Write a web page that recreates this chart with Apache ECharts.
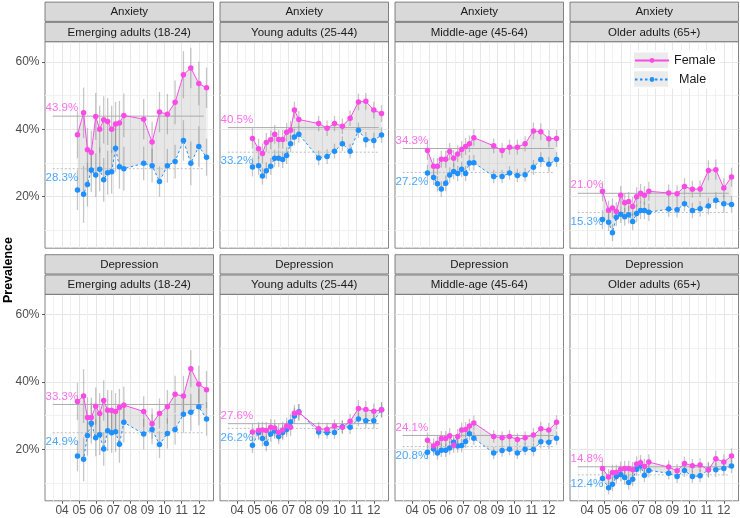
<!DOCTYPE html>
<html><head><meta charset="utf-8">
<script src="https://cdn.jsdelivr.net/npm/echarts@6/dist/echarts.min.js"></script>
<style>html,body{margin:0;padding:0;background:#fff}#c{width:740px;height:518px}</style>
</head><body><div id="c"></div>
<script>
// ---------- data ----------
const surveyDates = ['2020-04-28','2020-05-09','2020-05-16','2020-05-23','2020-05-31','2020-06-07','2020-06-14','2020-06-21','2020-06-28','2020-07-05','2020-07-12','2020-07-20','2020-08-25','2020-09-09','2020-09-22','2020-10-06','2020-10-20','2020-11-04','2020-11-17','2020-12-01','2020-12-15'];
const outcomes = ['Anxiety', 'Depression'];
const ageGroups = ['Emerging adults (18-24)', 'Young adults (25-44)', 'Middle-age (45-64)', 'Older adults (65+)'];
const monthTicks = [4, 5, 6, 7, 8, 9, 10, 11, 12];
const pctTicks = [20, 40, 60];
const pctMinorTicks = [10, 30, 50];
const meanSpan = ['2020-03-15', '2020-12-10'];

const anxFemEmerging = [38.4,44.9,33.9,33.1,43.8,40.0,42.8,42.3,40.0,41.6,41.9,44.1,43.0,36.2,45.1,44.5,48.0,56.2,58.2,53.6,52.3];
const anxMaleEmerging = [22.0,20.7,23.6,27.9,26.4,28.1,25.0,27.1,27.4,34.4,28.9,28.3,29.9,29.2,24.5,29.2,30.4,36.7,29.9,34.9,31.7];
const anxFemYoung = [37.3,34.2,32.8,36.1,36.9,38.5,37.0,37.0,39.1,39.7,45.7,42.9,41.7,40.3,41.7,40.9,43.3,48.1,48.3,45.7,44.7];
const anxMaleYoung = [28.8,29.2,26.1,27.7,29.0,31.4,31.4,31.0,32.2,35.7,37.7,38.5,31.5,31.9,33.5,35.7,33.5,39.7,36.9,36.7,38.3];
const anxFemMiddle = [33.7,29.0,29.0,31.1,31.1,33.4,31.4,32.7,34.0,34.9,35.7,37.5,35.1,33.7,34.7,34.7,35.7,39.5,39.3,37.2,37.3];
const anxMaleMiddle = [27.0,25.7,23.8,22.3,24.0,26.4,27.5,26.9,28.1,26.9,30.0,30.1,26.0,26.0,27.0,26.3,26.5,28.7,31.0,29.6,31.0];
const anxFemOlder = [21.6,16.0,16.6,15.6,20.4,18.2,18.6,17.1,20.0,21.0,20.4,21.6,21.1,20.9,23.0,22.2,22.3,27.8,28.0,22.6,25.8];
const anxMaleOlder = [13.2,12.4,9.3,13.9,14.8,14.0,14.6,12.6,15.0,15.9,15.9,15.4,16.3,16.1,17.9,15.9,16.4,17.2,18.9,17.9,17.7];
const depFemEmerging = [34.2,35.8,29.4,29.4,32.8,30.6,34.5,31.6,31.5,31.2,32.4,33.1,31.2,27.6,30.6,32.6,36.3,35.8,43.9,39.3,37.7];
const depMaleEmerging = [18.0,17.0,24.1,27.7,23.4,24.3,20.1,25.5,24.9,25.2,21.5,28.0,24.5,25.9,21.4,24.7,25.9,30.4,31.0,32.6,29.0];
const depFemYoung = [25.1,25.6,25.7,25.6,26.5,26.3,25.0,25.7,26.9,26.5,30.7,30.9,26.1,25.9,26.9,26.5,28.3,32.1,31.8,31.3,31.7];
const depMaleYoung = [21.2,25.0,23.2,21.7,24.5,25.4,23.8,25.0,25.9,28.1,29.9,31.1,25.1,25.0,25.0,26.7,26.5,29.0,28.5,28.5,31.7];
const depFemMiddle = [22.7,21.0,21.8,23.2,23.2,24.0,21.2,23.8,25.7,25.9,26.9,27.8,23.8,23.4,23.8,22.9,23.4,24.2,26.1,25.7,28.0];
const depMaleMiddle = [19.1,20.1,18.9,19.7,19.7,20.4,22.1,21.0,21.1,22.3,24.6,23.3,18.9,19.6,20.0,18.9,20.0,19.9,22.2,22.1,23.3];
const depFemOlder = [14.3,11.8,13.1,13.1,14.1,14.3,14.3,13.9,15.6,16.0,14.9,16.2,14.7,13.6,15.8,15.1,15.3,13.9,17.2,16.2,18.0];
const depMaleOlder = [11.3,8.6,9.6,11.9,12.5,11.6,10.1,11.1,14.1,15.0,12.3,13.7,12.9,11.9,13.7,11.9,12.1,13.9,13.9,14.3,15.0];

// 95% CI half-widths (percentage points)
const anxFemEmergingCI = [7.0,7.5,6.5,6.5,7.0,7.0,7.0,7.0,7.0,6.5,6.5,6.5,6.0,6.0,6.0,6.0,6.5,7.0,6.0,6.5,6.0];
const anxMaleEmergingCI = [6.0,8.5,6.5,6.5,6.5,6.5,6.5,6.5,6.5,7.0,6.5,6.5,5.0,5.0,4.5,5.0,5.0,6.0,6.5,6.0,5.5];
const anxFemYoungCI = [3.0,3.0,3.0,2.8,2.8,2.8,2.8,2.8,2.8,2.8,2.5,2.5,2.3,2.3,2.3,2.3,2.3,2.5,2.5,2.5,2.5];
const anxMaleYoungCI = [2.8,2.8,2.5,2.5,2.5,2.5,2.5,2.5,2.5,2.5,2.5,2.5,2.2,2.2,2.2,2.2,2.2,2.3,2.3,2.3,2.3];
const anxFemMiddleCI = [2.8,2.5,2.5,2.5,2.5,2.5,2.5,2.5,2.5,2.5,2.5,2.5,2.2,2.2,2.2,2.2,2.2,2.5,2.5,2.5,2.5];
const anxMaleMiddleCI = [2.5,2.3,2.3,2.3,2.3,2.3,2.3,2.3,2.3,2.3,2.3,2.3,2.0,2.0,2.0,2.0,2.0,2.2,2.2,2.2,2.2];
const anxFemOlderCI = [3.0,2.8,2.8,2.8,2.8,2.8,2.8,2.8,2.8,2.8,2.8,2.8,2.5,2.5,2.5,2.5,2.5,3.0,3.0,2.8,2.8];
const anxMaleOlderCI = [2.8,2.6,2.5,2.6,2.6,2.6,2.6,2.5,2.6,2.6,2.6,2.6,2.3,2.3,2.3,2.3,2.3,2.5,2.5,2.5,2.5];
const depFemEmergingCI = [5.5,8.0,6.0,6.0,5.5,6.0,6.0,6.0,6.0,5.5,5.5,5.5,4.5,4.5,4.5,5.0,5.5,6.0,5.5,5.5,5.5];
const depMaleEmergingCI = [4.5,6.5,6.0,6.0,5.5,6.0,5.0,6.0,6.0,6.0,5.5,6.0,4.5,4.5,4.0,4.5,4.5,5.5,5.5,5.5,5.0];
const depFemYoungCI = [2.5,2.5,2.5,2.5,2.5,2.5,2.5,2.5,2.5,2.5,2.5,2.5,2.0,2.0,2.0,2.0,2.2,2.5,2.5,2.3,2.3];
const depMaleYoungCI = [2.3,2.3,2.3,2.3,2.3,2.3,2.3,2.3,2.3,2.3,2.3,2.3,1.9,1.9,1.9,1.9,2.0,2.2,2.2,2.2,2.2];
const depFemMiddleCI = [2.3,2.2,2.2,2.2,2.2,2.2,2.2,2.2,2.2,2.2,2.2,2.2,1.9,1.9,1.9,1.9,1.9,2.1,2.1,2.1,2.1];
const depMaleMiddleCI = [2.1,2.0,2.0,2.0,2.0,2.0,2.0,2.0,2.0,2.0,2.0,2.0,1.8,1.8,1.8,1.8,1.8,2.0,2.0,2.0,2.0];
const depFemOlderCI = [2.4,2.3,2.3,2.3,2.3,2.3,2.3,2.3,2.3,2.3,2.3,2.3,2.0,2.0,2.0,2.0,2.0,2.4,2.4,2.3,2.3];
const depMaleOlderCI = [2.2,2.0,2.0,2.1,2.1,2.1,2.1,2.1,2.1,2.1,2.1,2.1,1.9,1.9,1.9,1.9,1.9,2.1,2.1,2.1,2.1];

// overall means shown as reference lines
const femaleMeans = [43.9, 40.5, 34.3, 21.0, 33.3, 27.6, 24.1, 14.8];
const maleMeans = [28.3, 33.2, 27.2, 15.3, 24.9, 26.2, 20.8, 12.4];

// ---------- helpers ----------
function monthPos(s) {
  const [y, m, d] = s.split('-').map(Number);
  const dim = new Date(y, m, 0).getDate();
  return m + (d - 1) / dim;
}
const xs = surveyDates.map(monthPos);
const meanX = meanSpan.map(monthPos);

const panels = [
  [anxFemEmerging, anxMaleEmerging, anxFemEmergingCI, anxMaleEmergingCI],
  [anxFemYoung, anxMaleYoung, anxFemYoungCI, anxMaleYoungCI],
  [anxFemMiddle, anxMaleMiddle, anxFemMiddleCI, anxMaleMiddleCI],
  [anxFemOlder, anxMaleOlder, anxFemOlderCI, anxMaleOlderCI],
  [depFemEmerging, depMaleEmerging, depFemEmergingCI, depMaleEmergingCI],
  [depFemYoung, depMaleYoung, depFemYoungCI, depMaleYoungCI],
  [depFemMiddle, depMaleMiddle, depFemMiddleCI, depMaleMiddleCI],
  [depFemOlder, depMaleOlder, depFemOlderCI, depMaleOlderCI]
];

// ---------- layout / style ----------
const FONT = '"Liberation Sans", Arial, Helvetica, sans-serif';
const PINK = '#FA4BE6';
const BLUE = '#1E90FF';
const colLeft = [45, 220, 395, 570];
const panelW = 168.5;
const rowTop = [41.7, 294.3];
const panelH = 206.5;
const stripH = 19.3;
const X_MIN = 3.0, X_MAX = 12.86, Y_MIN = 4.7, Y_MAX = 66;

const grids = [], xAxes = [], yAxes = [], series = [], graphics = [];

panels.forEach((pd, p) => {
  const r = Math.floor(p / 4), c = p % 4;
  const [fem, male, femCI, maleCI] = pd;
  grids.push({left: colLeft[c], top: rowTop[r], width: panelW, height: panelH,
    show: true, backgroundColor: '#fff', borderColor: '#666', borderWidth: 0.8});
  const bottom = r === 1, leftCol = c === 0;
  xAxes.push({type: 'value', gridIndex: p, min: X_MIN, max: X_MAX, interval: 1,
    axisLine: {show: false},
    axisTick: {show: bottom, length: 3, lineStyle: {color: '#333', width: 0.8}, customValues: monthTicks},
    axisLabel: {show: bottom, customValues: monthTicks, margin: 4, fontSize: 12, color: '#4D4D4D', fontFamily: FONT,
      formatter: v => String(v).padStart(2, '0')},
    splitLine: {show: true, lineStyle: {color: '#E6E6E6', width: 1}},
    minorTick: {show: false, splitNumber: 2},
    minorSplitLine: {show: true, lineStyle: {color: '#F1F1F1', width: 1}}
  });
  yAxes.push({type: 'value', gridIndex: p, min: Y_MIN, max: Y_MAX,
    axisLine: {show: false},
    axisTick: {show: leftCol, length: 3, lineStyle: {color: '#333', width: 0.8}, customValues: pctTicks},
    axisLabel: {show: leftCol, customValues: pctTicks, margin: 5.5, fontSize: 12, color: '#4D4D4D', fontFamily: FONT,
      formatter: v => v + '%'},
    splitLine: {show: true, lineStyle: {color: '#E6E6E6', width: 1}}
  });
  yAxes.push({type: 'value', gridIndex: p, min: Y_MIN, max: Y_MAX, position: 'left',
    axisLine: {show: false}, axisLabel: {show: false},
    axisTick: {show: false, customValues: pctMinorTicks},
    splitLine: {show: true, lineStyle: {color: '#F1F1F1', width: 1}}
  });
  const ya = p * 2;
  const common = {xAxisIndex: p, yAxisIndex: ya, silent: true, animation: false};
  // ribbon between female and male (one polygon through the axis scale)
  series.push(Object.assign({type: 'custom', name: 'ribbon' + p,
    encode: {x: 0, y: [1, 2]}, data: xs.map((x, i) => [x, fem[i], male[i]]),
    renderItem: (params, api) => {
      if (params.dataIndex !== 0) return null;
      const upper = xs.map((x, i) => api.coord([x, fem[i]]));
      const lower = xs.map((x, i) => api.coord([x, male[i]])).reverse();
      return {type: 'polygon', shape: {points: upper.concat(lower)},
        style: {fill: 'rgba(170,170,170,0.28)', stroke: null}};
    }, z: 1}, common));
  // mean reference lines
  series.push(Object.assign({type: 'line', name: 'femMean' + p, data: meanX.map(x => [x, femaleMeans[p]]),
    symbol: 'none', lineStyle: {color: '#ABABAB', width: 1}, z: 2}, common));
  series.push(Object.assign({type: 'line', name: 'maleMean' + p, data: meanX.map(x => [x, maleMeans[p]]),
    symbol: 'none', lineStyle: {color: '#BDBDBD', width: 1, type: [2, 2]}, z: 2}, common));
  // error bars
  const errBar = (params, api) => {
    const a = api.coord([api.value(0), api.value(1)]);
    const b = api.coord([api.value(0), api.value(2)]);
    return {type: 'line', shape: {x1: a[0], y1: a[1], x2: b[0], y2: b[1]},
      style: {stroke: 'rgba(120,120,120,0.42)', lineWidth: 1.3}};
  };
  [[fem, femCI], [male, maleCI]].forEach(([v, ci], k) => {
    series.push(Object.assign({type: 'custom', name: 'ci' + k + '_' + p, renderItem: errBar,
      encode: {x: 0, y: [1, 2]}, data: xs.map((x, i) => [x, v[i] - ci[i], v[i] + ci[i]]), z: 2}, common));
  });
  // main lines
  series.push(Object.assign({type: 'line', name: 'Male', data: xs.map((x, i) => [x, male[i]]),
    symbol: 'circle', symbolSize: 5.5, itemStyle: {color: BLUE},
    lineStyle: {color: BLUE, width: 1, type: [2.5, 2.5]}, z: 4}, common));
  series.push(Object.assign({type: 'line', name: 'Female', data: xs.map((x, i) => [x, fem[i]]),
    symbol: 'circle', symbolSize: 5.5, itemStyle: {color: PINK},
    lineStyle: {color: PINK, width: 1}, z: 4}, common));
  // mean labels
  series.push(Object.assign({type: 'scatter', name: 'femLab' + p, data: [[X_MIN, femaleMeans[p]]],
    symbolSize: 1, itemStyle: {color: 'transparent'}, clip: false,
    label: {show: true, position: 'right', distance: 0, offset: [0, -8], color: PINK, fontSize: 11.5, fontFamily: FONT,
      formatter: femaleMeans[p].toFixed(1) + '%'}, z: 5}, common));
  series.push(Object.assign({type: 'scatter', name: 'maleLab' + p, data: [[X_MIN, maleMeans[p]]],
    symbolSize: 1, itemStyle: {color: 'transparent'}, clip: false,
    label: {show: true, position: 'right', distance: 0, offset: [0, 9], color: BLUE, fontSize: 11.5, fontFamily: FONT,
      formatter: maleMeans[p].toFixed(1) + '%'}, z: 5}, common));

  // strips
  const top0 = rowTop[r] - 2 * stripH - 1;
  [[outcomes[r], top0], [ageGroups[c], top0 + stripH + 1]].forEach(([txt, ty]) => {
    graphics.push({type: 'rect', shape: {x: colLeft[c], y: ty, width: panelW, height: stripH},
      style: {fill: '#D9D9D9', stroke: '#666', lineWidth: 0.8}, z: 1});
    graphics.push({type: 'text', x: colLeft[c] + panelW / 2, y: ty + stripH / 2 + 0.5,
      style: {text: txt, font: '11.5px ' + FONT, fill: '#1A1A1A', textAlign: 'center', textVerticalAlign: 'middle', verticalAlign: 'middle'}, z: 2});
  });
});

// legend background & key boxes
graphics.push({type: 'rect', shape: {x: 632, y: 50.5, width: 88, height: 38}, style: {fill: '#fff'}, z: 5});
graphics.push({type: 'rect', shape: {x: 634, y: 52.5, width: 34, height: 15.5}, style: {fill: '#EBEBEB'}, z: 6});
graphics.push({type: 'rect', shape: {x: 634, y: 71.3, width: 34, height: 15.5}, style: {fill: '#EBEBEB'}, z: 6});
// y-axis title
graphics.push({type: 'text', x: 9, y: 270, rotation: Math.PI / 2,
  style: {text: 'Prevalence', font: 'bold 12.5px ' + FONT, fill: '#000', textAlign: 'center', textVerticalAlign: 'middle', verticalAlign: 'middle'}, z: 2});

const chart = echarts.init(document.getElementById('c'), null, {renderer: 'canvas'});
chart.setOption({
  animation: false,
  backgroundColor: '#fff',
  textStyle: {fontFamily: FONT},
  grid: grids, xAxis: xAxes, yAxis: yAxes, series: series,
  legend: {left: 634, top: 52.5, padding: 0, orient: 'vertical', itemWidth: 34, itemHeight: 6, itemGap: 3,
    selectedMode: false, data: ['Female', 'Male'], z: 10,
    textStyle: {fontSize: 12.5, color: '#1A1A1A', lineHeight: 16, fontFamily: FONT,
      rich: {m: {fontSize: 12.5, lineHeight: 16, padding: [0, 0, 0, 5], color: '#1A1A1A', fontFamily: FONT}}},
    formatter: n => n === 'Male' ? '{m|Male}' : n},
  graphic: {elements: graphics}
});
</script></body></html>
